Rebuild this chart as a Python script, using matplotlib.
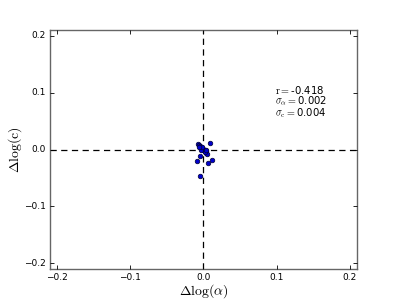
import matplotlib
matplotlib.use('Agg')
import matplotlib.pyplot as plt
import numpy as np

plt.style.use('classic')
plt.rc('mathtext', fontset='cm')

# residuals
dlog_alpha = [0.0095, -0.0078, -0.0065, -0.0054, -0.0042, -0.0030, -0.0020, -0.0014,
              -0.0005, 0.0000, 0.0008, 0.0014, 0.0022, 0.0030, 0.0040, 0.0050,
              -0.0040, -0.0014, -0.0054, -0.0095, 0.0113, 0.0059, -0.0054, 0.0020,
              -0.0065, 0.0035]
dlog_c = [0.012, 0.010, 0.0085, 0.007, 0.005, 0.0035, 0.0025, 0.0017,
          0.0008, 0.000, -0.0008, -0.0017, -0.0025, -0.0035, -0.0055, -0.0075,
          -0.0017, 0.005, -0.012, -0.0197, -0.018, -0.023, -0.047, -0.005,
          0.004, -0.001]

stats_text = ['$\\mathrm{r=}$-0.418',
              '$\\sigma_\\alpha=$0.002',
              '$\\sigma_\\mathrm{c}=$0.004']
ticks = [-0.2, -0.1, 0.0, 0.1, 0.2]
lim = 0.21

fig, ax = plt.subplots(figsize=(3.99, 2.99), dpi=100)
fig.subplots_adjust(left=0.125, right=0.895, bottom=0.1, top=0.9)

ax.scatter(dlog_alpha, dlog_c, s=11, c='#0000cc', edgecolors='#000033',
           linewidths=0.5, zorder=3)
ax.axhline(0, color='k', ls='--', lw=0.9, dashes=(4.5, 3.2))
ax.axvline(0, color='k', ls='--', lw=0.9, dashes=(4.5, 3.2))

ax.set_xlim(-lim, lim)
ax.set_ylim(-lim, lim)
ax.set_xticks(ticks)
ax.set_yticks(ticks)
ax.tick_params(labelsize=6.5, length=3, width=0.6, pad=3)
for sp in ax.spines.values():
    sp.set_color('#666666')
    sp.set_linewidth(1.0)

ax.set_xlabel(r'$\Delta\log(\alpha)$', fontsize=10, labelpad=0)
ax.set_ylabel(r'$\Delta\log(\mathrm{c})$', fontsize=10, labelpad=0)

# one text block so the lines stay tight like the reference
ax.text(0.098, 0.084, '\n'.join(stats_text), fontsize=7.3, va='center',
        ha='left', linespacing=0.85)

fig.savefig('out.png', dpi=100)
